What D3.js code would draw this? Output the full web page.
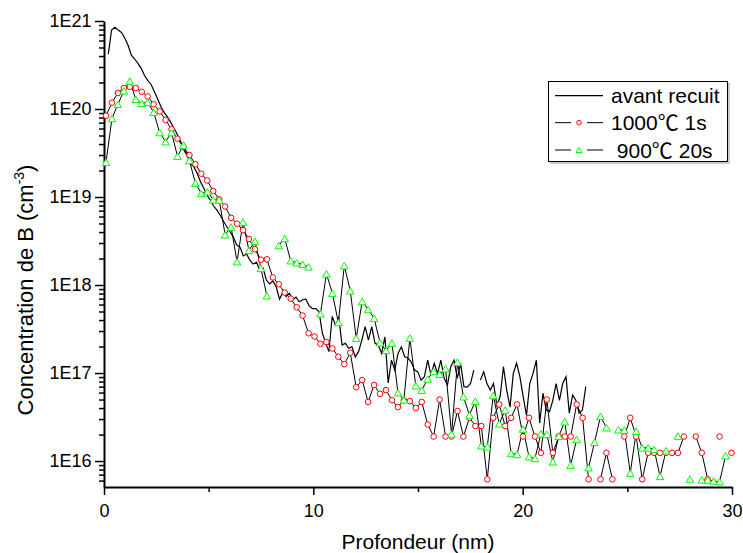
<!DOCTYPE html>
<html><head><meta charset="utf-8">
<script src="https://cdn.jsdelivr.net/npm/d3@7"></script>
<style>
body{margin:0;background:#fff}
svg{display:block}
text{font-family:"Liberation Sans",Arial,"Noto Sans CJK SC",sans-serif;fill:#000}
</style>
</head><body>
<svg id="c" width="743" height="553"></svg>
<script>
// ---- data ----
const xTicksMajor = [0, 10, 20, 30];
const xTicksMinor = [5, 15, 25];
const yTicksMajor = [1e16, 1e17, 1e18, 1e19, 1e20, 1e21];
const seriesNames = ["avant recuit", "1000\u2103 1s", " 900\u2103 20s"];
const xTitle = "Profondeur (nm)";

// as-implanted profile (depth grid: start + index * step, nm)
const avantStart = 0.205, avantStep = 0.1573;
const avantValues = [
 4.2e20,7.9e20,8.5e20,7.9e20,7.4e20,6.4e20,5.3e20,4.1e20,3.7e20,3.3e20,
 2.9e20,2.4e20,2.1e20,1.9e20,1.57e20,1.3e20,1.06e20,9.1e19,8.1e19,7.0e19,
 6.0e19,5.1e19,4.25e19,3.4e19,2.9e19,2.4e19,2.2e19,1.86e19,1.49e19,1.26e19,
 1.05e19,9.2e18,7.9e18,7.1e18,6.2e18,5.3e18,4.6e18,4.0e18,3.5e18,2.85e18,
 2.7e18,2.14e18,2.25e18,1.92e18,1.73e18,1.82e18,1.48e18,1.56e18,1.14e18,1.03e18,
 1.11e18,9.5e17,6.9e17,8.3e17,7.4e17,8.05e17,6.8e17,7.3e17,6.46e17,6.8e17,
 6.9e17,5.8e17,5.4e17,5.4e17,4.98e17,2.85e17,2.2e17,1.75e17,4.4e17,3.5e17,
 4.2e17,2.08e17,2.18e17,1.91e17,1.99e17,1.53e17,1.75e17,2.37e17,3.36e17,2.37e17,
 3.36e17,2.18e17,2.08e17,1.67e17,2.58e17,7.7e16,1.4e17,1.08e17,1.67e17,1.99e17,
 1.53e17,1.48e17,1.33e17,1.08e17,1.03e17,8.3e16,9.1e16,1.4e17,9.5e16,1.29e17,
 9.9e16,1.4e17,8.7e16,7.3e16,1.18e17,1.4e17,8.7e16,1.29e17,7.0e16,6.9e16,
 7.6e16,1.08e17,null,8.3e16,1.03e17,7.6e16,6.4e16,7.6e16,4.3e16,5.4e16,
 1.18e17,6.4e16,4.1e16,9.9e16,1.29e17,9.1e16,5.4e16,3.3e16,7.6e16,9.9e16,
 1.4e17,2.7e16,5.9e16,3.8e16,3.65e16,4.9e16,7.6e16,4.9e16,7.6e16,9.1e16,
 3.5e16,5.6e16,4.9e16,3.5e16,3.8e16,7.0e16
];

// annealed samples share one depth grid
const annealStart = 0.0955, annealStep = 0.2846;
const rtaValues = [ // 1000C 1s
 8.4e19,1.18e20,1.52e20,1.73e20,1.79e20,1.73e20,1.57e20,1.39e20,1.13e20,9.4e19,
 7.5e19,5.9e19,4.6e19,3.7e19,3.0e19,2.36e19,1.84e19,1.54e19,1.17e19,9.4e18,
 7.8e18,5.8e18,4.98e18,4.2e18,3.33e18,2.55e18,1.94e18,1.96e18,1.22e18,1.02e18,
 8.2e17,7.0e17,5.6e17,4.5e17,2.83e17,2.6e17,2.15e17,2.25e17,1.9e17,1.53e17,
 1.26e17,1.7e17,6.9e16,8.3e16,4.7e16,7.3e16,5.8e16,6.4e16,4.9e16,4.1e16,
 4.9e16,4.8e16,4.0e16,4.7e16,2.6e16,1.9e16,5.0e16,1.9e16,1.9e16,3.7e16,
 1.9e16,3.1e16,2.5e16,2.5e16,6.2e15,3.1e16,4.4e16,2.5e16,3.1e16,4.4e16,
 1.9e16,3.1e16,1.9e16,1.24e16,5.0e16,1.24e16,1.9e16,1.9e16,1.9e16,4.4e16,
 3.1e16,6.2e15,null,6.2e15,1.24e16,6.2e15,null,1.9e16,3.1e16,1.9e16,
 6.2e15,1.24e16,1.24e16,1.24e16,1.24e16,1.24e16,1.24e16,1.9e16,null,1.9e16,
 1.24e16,6.2e15,null,1.9e16,null,1.24e16
];
const furnaceValues = [ // 900C 20s
 2.48e19,7.8e19,1.13e20,1.61e20,2.08e20,1.29e20,1.16e20,1.19e20,9.2e19,5.4e19,
 4.25e19,5.4e19,2.9e19,3.9e19,2.6e19,1.44e19,1.1e19,1.15e19,9.3e18,9.25e18,
 3.72e18,4.56e18,1.84e18,5.2e18,2.47e18,3.14e18,1.55e18,7.56e17,null,2.81e18,
 3.38e18,1.89e18,1.79e18,1.72e18,1.61e18,null,4.72e17,1.34e18,8.05e17,3.75e17,
 1.66e18,8.6e17,2.48e17,6.5e17,5.27e17,4.2e17,2.21e17,1.81e17,2.19e17,5.97e16,
 4.97e16,2.5e17,7.17e16,6.38e16,8.55e16,1.05e17,9.7e16,1.12e17,2.03e16,1.33e17,
 5.38e16,3.33e16,4.8e16,1.49e16,1.45e16,5.55e16,2.65e16,3.8e16,1.22e16,1.19e16,
 2.31e16,1.12e16,1.07e16,2.04e16,2.01e16,9.8e15,1.92e16,2.8e16,9.0e15,1.76e16,
 null,8.4e15,1.63e16,3.22e16,2.39e16,null,2.27e16,2.25e16,7.3e15,2.18e16,
 1.41e16,1.41e16,1.36e16,6.7e15,1.31e16,null,1.92e16,null,6.24e15,null,
 6.1e15,6.1e15,5.93e15,5.83e15,1.15e16,null
];

// ---- chart ----
const svg = d3.select("#c");
const x = d3.scaleLinear().domain([0, 30]).range([104, 732]);
const y = d3.scaleLog().domain([5.07e15, 1e21]).range([487, 21]);

const avant = avantValues.map((v, i) => ({d: avantStart + i * avantStep, v}));
const rta = rtaValues.map((v, i) => ({d: annealStart + i * annealStep, v}));
const furnace = furnaceValues.map((v, i) => ({d: annealStart + i * annealStep, v}));

const yMinor = [];
for (let e = 15; e <= 20; e++) for (let k = 2; k <= 9; k++) {
  const v = k * Math.pow(10, e);
  if (v >= 5.07e15 && v <= 1e21) yMinor.push(v);
}

// axes
const gx = svg.append("g").attr("transform", "translate(0,487)");
gx.call(d3.axisBottom(x).tickValues(xTicksMajor).tickSize(8).tickSizeOuter(0).tickFormat(d3.format("d")));
gx.select(".domain").attr("stroke-width", 2);
gx.selectAll(".tick line").attr("stroke-width", 1.5);
gx.selectAll(".tick text").attr("y", 30).attr("dy", 0).attr("font-size", 18).attr("font-family", null);
const gxm = svg.append("g").attr("transform", "translate(0,487)");
gxm.call(d3.axisBottom(x).tickValues(xTicksMinor).tickSize(5).tickFormat(""));
gxm.select(".domain").remove();
gxm.selectAll(".tick line").attr("stroke-width", 1.5);

const gy = svg.append("g").attr("transform", "translate(104,0)");
gy.call(d3.axisLeft(y).tickValues(yTicksMajor).tickSize(9).tickSizeOuter(0)
  .tickFormat(d => "1E" + Math.round(Math.log10(d))));
gy.select(".domain").attr("stroke-width", 2);
gy.selectAll(".tick line").attr("stroke-width", 1.5);
gy.selectAll(".tick text").attr("x", -12.5).attr("dy", "0.33em").attr("font-size", 18).attr("font-family", null);
const gym = svg.append("g").attr("transform", "translate(104,0)");
gym.call(d3.axisLeft(y).tickValues(yMinor).tickSize(5).tickFormat(""));
gym.select(".domain").remove();
gym.selectAll(".tick line").attr("stroke-width", 1.5);

// axis titles
svg.append("text").attr("x", 418).attr("y", 549).attr("text-anchor", "middle")
  .attr("font-size", 21).text(xTitle);
const yt = svg.append("text").attr("transform", "translate(33,290) rotate(-90)")
  .attr("text-anchor", "middle").attr("font-size", 22);
yt.append("tspan").text("Concentration de B (cm");
yt.append("tspan").attr("dy", -9).attr("font-size", 14).text("-3");
yt.append("tspan").attr("dy", 9).text(")");

// lines
const line = d3.line().defined(d => d.v != null).x(d => x(d.d)).y(d => y(d.v));
svg.append("path").datum(avant).attr("d", line).attr("fill", "none")
  .attr("stroke", "#000").attr("stroke-width", 1.2);
svg.append("path").datum(rta).attr("d", line).attr("fill", "none")
  .attr("stroke", "#000").attr("stroke-width", 1);
svg.append("path").datum(furnace).attr("d", line).attr("fill", "none")
  .attr("stroke", "#000").attr("stroke-width", 1);

// markers
const tri = (w, h) => `M0,${-h/2}L${w/2},${h/2}L${-w/2},${h/2}Z`;
svg.append("g").selectAll("circle").data(rta.filter(d => d.v != null)).join("circle")
  .attr("cx", d => x(d.d)).attr("cy", d => y(d.v)).attr("r", 2.8)
  .attr("fill", "#fff").attr("stroke", "#ff0000").attr("stroke-width", 1);
svg.append("g").selectAll("path").data(furnace.filter(d => d.v != null)).join("path")
  .attr("transform", d => `translate(${x(d.d)},${y(d.v)})`).attr("d", tri(7.5, 6.5))
  .attr("fill", "#fff").attr("stroke", "#00ff00").attr("stroke-width", 1);

// legend
const lg = svg.append("g");
lg.append("rect").attr("x", 550).attr("y", 83).attr("width", 180).attr("height", 81).attr("fill", "#ccc");
lg.append("rect").attr("x", 548.5).attr("y", 81.5).attr("width", 179).attr("height", 80)
  .attr("fill", "#fff").attr("stroke", "#000").attr("stroke-width", 1);
const rowsY = [95.7, 122.7, 150];
lg.append("line").attr("x1", 555).attr("x2", 603).attr("y1", rowsY[0]).attr("y2", rowsY[0]).attr("stroke", "#000").attr("stroke-width", 1.2);
[1, 2].forEach(r => {
  lg.append("line").attr("x1", 555).attr("x2", 571).attr("y1", rowsY[r]).attr("y2", rowsY[r]).attr("stroke", "#000");
  lg.append("line").attr("x1", 587).attr("x2", 603).attr("y1", rowsY[r]).attr("y2", rowsY[r]).attr("stroke", "#000");
});
lg.append("circle").attr("cx", 579).attr("cy", rowsY[1]).attr("r", 2.3).attr("fill", "#fff").attr("stroke", "#ff0000");
lg.append("path").attr("transform", `translate(579,${rowsY[2]})`).attr("d", tri(6, 5)).attr("fill", "#fff").attr("stroke", "#00ff00");
seriesNames.forEach((n, i) => {
  lg.append("text").attr("x", 611).attr("y", rowsY[i] + 7.5).attr("font-size", 21)
    .attr("xml:space", "preserve").style("white-space", "pre").text(n);
});
</script>
</body></html>
